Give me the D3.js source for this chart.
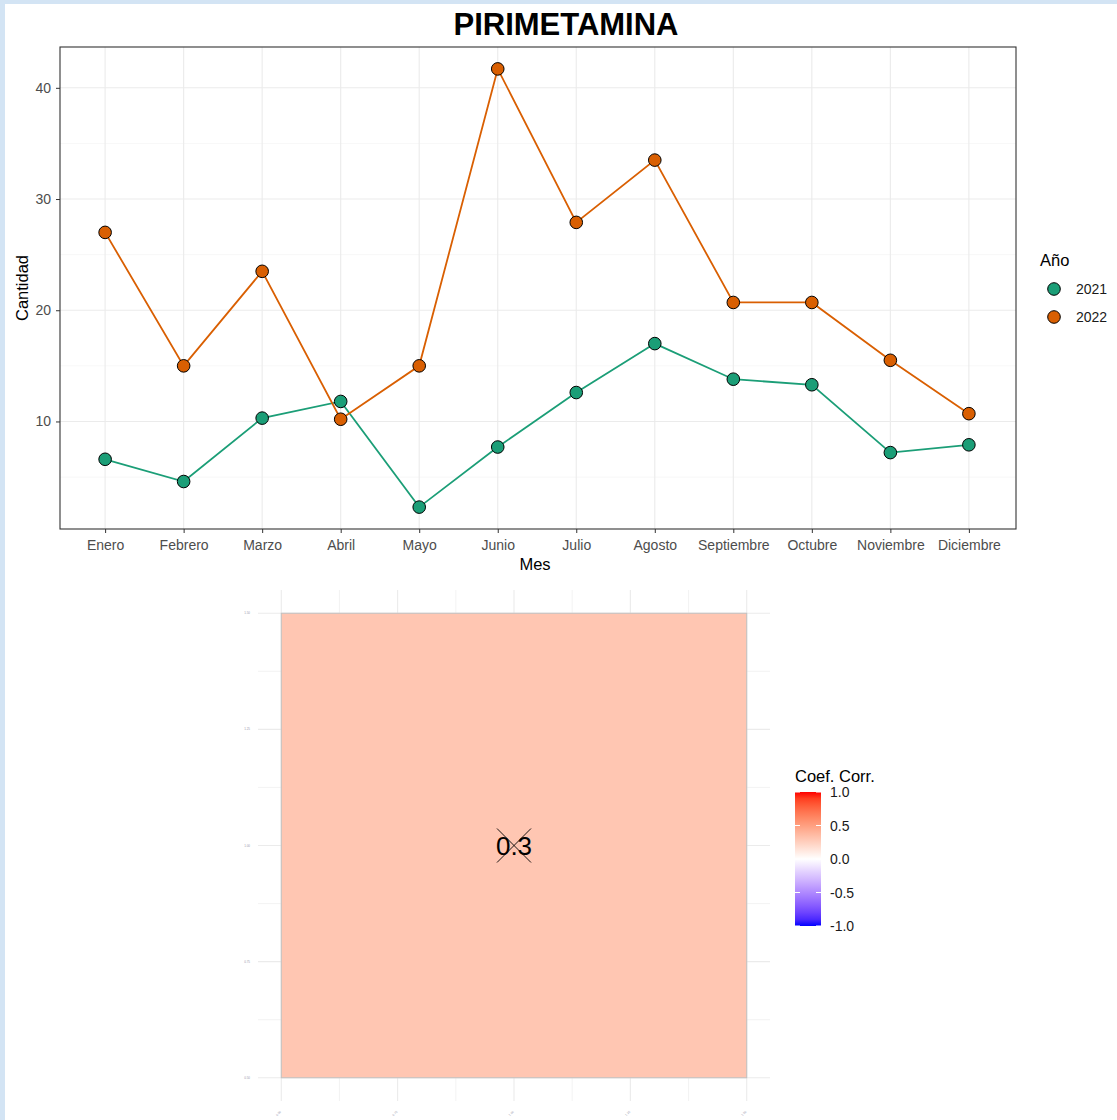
<!DOCTYPE html>
<html><head><meta charset="utf-8">
<script src="https://cdn.jsdelivr.net/npm/d3@7"></script>
<style>body{margin:0;padding:0;background:#d6e6f5;} svg{display:block;font-family:"Liberation Sans",Arial,sans-serif;}</style>
</head><body>
<script>
const months = ["Enero","Febrero","Marzo","Abril","Mayo","Junio","Julio","Agosto","Septiembre","Octubre","Noviembre","Diciembre"];
const values2021 = [6.6, 4.6, 10.3, 11.8, 2.3, 7.7, 12.6, 17.0, 13.8, 13.3, 7.2, 7.9];
const values2022 = [27.0, 15.0, 23.5, 10.2, 15.0, 41.7, 27.9, 33.5, 20.7, 20.7, 15.5, 10.7];
const seriesNames = ["2021", "2022"];
const seriesColors = ["#1B9E77", "#D95F02"];
const yTicks = [10, 20, 30, 40];
const corrValue = 0.3;
const corrTicks = ["0.50", "0.75", "1.00", "1.25", "1.50"];
const legendTicks = [1.0, 0.5, 0.0, -0.5, -1.0];

const W = 1117, H = 1120;
const svg = d3.select("body").append("svg").attr("width", W).attr("height", H);
svg.append("rect").attr("x",0).attr("y",0).attr("width",W).attr("height",H).attr("fill","#d3e4f4");
svg.append("rect").attr("x",5).attr("y",4).attr("width",W-5).attr("height",H-4).attr("fill","#fff");

// ---------- Line chart ----------
const P = {l:60, r:1016, t:47, b:529};
const all = values2021.concat(values2022);
const ymin = d3.min(all), ymax = d3.max(all), ex = (ymax-ymin)*0.05;
const y = d3.scaleLinear().domain([ymin-ex, ymax+ex]).range([P.b, P.t]);
const x = d3.scalePoint().domain(months).range([P.l-2, P.r]).padding(0.6);

const g = svg.append("g");
const minor = [5,15,25,35].filter(v => v>y.domain()[0] && v<y.domain()[1]);
g.selectAll(".ymin").data(minor).join("line")
  .attr("x1",P.l).attr("x2",P.r).attr("y1",d=>y(d)).attr("y2",d=>y(d))
  .attr("stroke","#F2F2F2").attr("stroke-width",0.6);
g.selectAll(".ymaj").data(yTicks).join("line")
  .attr("x1",P.l).attr("x2",P.r).attr("y1",d=>y(d)).attr("y2",d=>y(d))
  .attr("stroke","#EBEBEB").attr("stroke-width",1.1);
g.selectAll(".xmaj").data(months).join("line")
  .attr("x1",d=>x(d)).attr("x2",d=>x(d)).attr("y1",P.t).attr("y2",P.b)
  .attr("stroke","#EBEBEB").attr("stroke-width",1.1);

const yAxis = d3.axisLeft(y).tickValues(yTicks).tickSize(4).tickPadding(5).tickFormat(d3.format("d"));
const ya = svg.append("g").attr("transform",`translate(${P.l},0)`).call(yAxis);
ya.select(".domain").remove();
ya.selectAll("line").attr("stroke","#333").attr("stroke-width",1);
ya.selectAll("text").attr("fill","#4D4D4D").style("font-size","14px");

const xAxis = d3.axisBottom(x).tickSize(4).tickPadding(7);
const xa = svg.append("g").attr("transform",`translate(0,${P.b})`).call(xAxis);
xa.select(".domain").remove();
xa.selectAll("line").attr("stroke","#333").attr("stroke-width",1);
xa.selectAll("text").attr("fill","#4D4D4D").style("font-size","14px");

svg.append("rect").attr("x",P.l).attr("y",P.t).attr("width",P.r-P.l).attr("height",P.b-P.t)
  .attr("fill","none").attr("stroke","#333").attr("stroke-width",1.1);

const series = [values2021, values2022];
const line = d3.line().x((d,i)=>x(months[i])).y(d=>y(d));
series.forEach((vals, si) => {
  svg.append("path").datum(vals).attr("d", line).attr("fill","none")
    .attr("stroke", seriesColors[si]).attr("stroke-width", 1.8);
});
series.forEach((vals, si) => {
  svg.selectAll(".pt"+si).data(vals).join("circle")
    .attr("cx",(d,i)=>x(months[i])).attr("cy",d=>y(d)).attr("r",6.3)
    .attr("fill",seriesColors[si]).attr("stroke","#000").attr("stroke-width",1);
});

svg.append("text").attr("x",(P.l+P.r)/2+28).attr("y",35).attr("text-anchor","middle")
  .style("font-size","31px").style("font-weight","bold").attr("fill","#000").text("PIRIMETAMINA");
svg.append("text").attr("x",(P.l+P.r)/2-3).attr("y",570).attr("text-anchor","middle")
  .style("font-size","16.5px").attr("fill","#000").text("Mes");
svg.append("text").attr("transform",`translate(28,${(P.t+P.b)/2}) rotate(-90)`).attr("text-anchor","middle")
  .style("font-size","16.5px").attr("fill","#000").text("Cantidad");

svg.append("text").attr("x",1040).attr("y",266).style("font-size","16.5px").attr("fill","#000").text("Año");
seriesNames.forEach((n,i) => {
  const cy = 289 + i*28;
  svg.append("circle").attr("cx",1054).attr("cy",cy).attr("r",6.3)
    .attr("fill",seriesColors[i]).attr("stroke","#000").attr("stroke-width",1);
  svg.append("text").attr("x",1076).attr("y",cy+5).style("font-size","14px").attr("fill","#1A1A1A").text(n);
});

// ---------- Correlation tile ----------
const C = {l:258, r:770, t:590, b:1101};
const cx = d3.scaleLinear().domain([0.45,1.55]).range([C.l, C.r]);
const cy = d3.scaleLinear().domain([0.45,1.55]).range([C.b, C.t]);
const fillScale = d3.scaleLinear().domain([-1,0,1]).range(["#0000FF","#FFFFFF","#FF0000"]).interpolate(d3.interpolateLab);
const gridVals = d3.range(0.5, 1.5001, 0.125);
const cg = svg.append("g");
cg.selectAll(".cv").data(gridVals).join("line")
  .attr("x1",d=>cx(d)).attr("x2",d=>cx(d)).attr("y1",C.t).attr("y2",C.b)
  .attr("stroke","#EBEBEB").attr("stroke-width",(d,i)=>i%2===0?1.1:0.6);
cg.selectAll(".ch").data(gridVals).join("line")
  .attr("y1",d=>cy(d)).attr("y2",d=>cy(d)).attr("x1",C.l).attr("x2",C.r)
  .attr("stroke","#EBEBEB").attr("stroke-width",(d,i)=>i%2===0?1.1:0.6);
cg.append("rect").attr("x",cx(0.5)).attr("y",cy(1.5)).attr("width",cx(1.5)-cx(0.5)).attr("height",cy(0.5)-cy(1.5))
  .attr("fill",fillScale(corrValue)).attr("stroke","#C0C0C0").attr("stroke-width",1);
corrTicks.forEach(t => {
  const v = +t;
  cg.append("text").attr("x",250).attr("y",cy(v)+1).attr("text-anchor","end")
    .style("font-size","3px").attr("fill","#9a9aae").text(t);
  cg.append("text").attr("transform",`translate(${cx(v)},1112) rotate(-45)`).attr("text-anchor","end")
    .style("font-size","3px").attr("fill","#9a9aae").text(t);
});
const mx = cx(1), my = cy(1);
cg.append("text").attr("x",mx).attr("y",my+9).attr("text-anchor","middle")
  .style("font-size","26px").attr("fill","#000").text(corrValue.toFixed(1));
cg.append("line").attr("x1",mx-17).attr("y1",my-17).attr("x2",mx+17).attr("y2",my+17).attr("stroke","#000").attr("stroke-width",0.9);
cg.append("line").attr("x1",mx+17).attr("y1",my-17).attr("x2",mx-17).attr("y2",my+17).attr("stroke","#000").attr("stroke-width",0.9);

const L = {x:795, w:26, t:792, b:926};
const ly = d3.scaleLinear().domain([-1,1]).range([L.b, L.t]);
const defs = svg.append("defs");
const grad = defs.append("linearGradient").attr("id","cg").attr("x1",0).attr("y1",1).attr("x2",0).attr("y2",0);
d3.range(0, 1.0001, 0.05).forEach(t => {
  grad.append("stop").attr("offset",t).attr("stop-color",fillScale(-1+2*t));
});
svg.append("rect").attr("x",L.x).attr("y",L.t).attr("width",L.w).attr("height",L.b-L.t).attr("fill","url(#cg)");
legendTicks.forEach(v => {
  svg.append("line").attr("x1",L.x).attr("x2",L.x+5).attr("y1",ly(v)).attr("y2",ly(v)).attr("stroke","#fff").attr("stroke-width",1);
  svg.append("line").attr("x1",L.x+L.w-5).attr("x2",L.x+L.w).attr("y1",ly(v)).attr("y2",ly(v)).attr("stroke","#fff").attr("stroke-width",1);
  svg.append("text").attr("x",830).attr("y",ly(v)+5).style("font-size","14px").attr("fill","#1A1A1A").text(v.toFixed(1));
});
svg.append("text").attr("x",795).attr("y",782).style("font-size","16.5px").attr("fill","#000").text("Coef. Corr.");
</script>
</body></html>
